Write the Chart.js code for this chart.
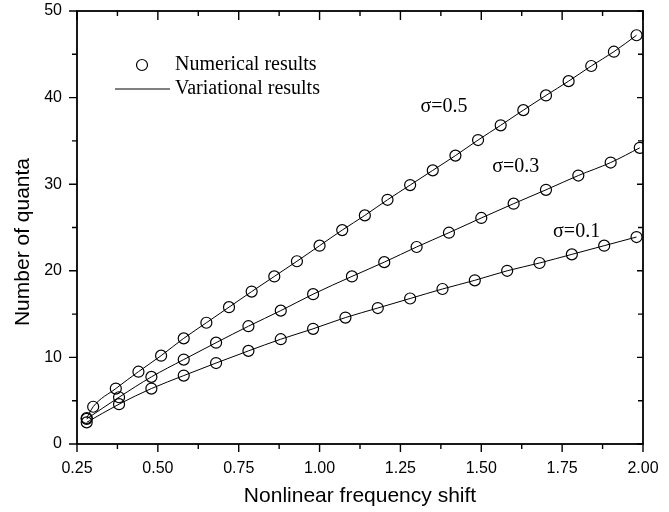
<!DOCTYPE html>
<html>
<head>
<meta charset="utf-8">
<script src="https://cdn.jsdelivr.net/npm/chart.js@4/dist/chart.umd.min.js"></script>
<style>
  html, body { margin: 0; padding: 0; background: #fff; }
  #quantaChart { display: block; }
</style>
</head>
<body>
<canvas id="quantaChart" width="669" height="512"></canvas>
<script>
// nonlinear frequency shift vs number of quanta
const shiftSigma05 = [0.28, 0.30, 0.37, 0.44, 0.51, 0.58, 0.65, 0.72, 0.79, 0.86, 0.93, 1.00, 1.07,
    1.14, 1.21, 1.28, 1.35, 1.42, 1.49, 1.56, 1.63, 1.70, 1.77, 1.84, 1.91, 1.98]
const quantaSigma05 = [3.0, 4.3, 6.4, 8.35, 10.2, 12.2, 14.0, 15.8, 17.6, 19.35, 21.1, 22.9, 24.7,
    26.4, 28.2, 29.9, 31.6, 33.3, 35.1, 36.8, 38.55, 40.25, 41.9, 43.65, 45.3, 47.2]

const shiftSigma03 = [0.28, 0.38, 0.48, 0.58, 0.68, 0.78, 0.88, 0.98, 1.10, 1.20, 1.30, 1.40, 1.50,
    1.60, 1.70, 1.80, 1.90, 1.99]
const quantaSigma03 = [2.9, 5.4, 7.75, 9.75, 11.7, 13.6, 15.4, 17.3, 19.35, 21.0, 22.75, 24.4, 26.1,
    27.75, 29.35, 31.0, 32.5, 34.2]

const shiftSigma01 = [0.28, 0.38, 0.48, 0.58, 0.68, 0.78, 0.88, 0.98, 1.08, 1.18, 1.28, 1.38, 1.48,
    1.58, 1.68, 1.78, 1.88, 1.98]
const quantaSigma01 = [2.5, 4.6, 6.4, 7.9, 9.35, 10.75, 12.1, 13.3, 14.6, 15.7, 16.8, 17.9, 18.9,
    20.0, 20.9, 21.9, 22.9, 23.9]

const xMajorTicks = [0.25, 0.50, 0.75, 1.00, 1.25, 1.50, 1.75, 2.00]
const xMinorTicks = [0.375, 0.625, 0.875, 1.125, 1.375, 1.625, 1.875]
const yMajorTicks = [0, 10, 20, 30, 40, 50]
const yMinorTicks = [5, 15, 25, 35, 45]

const curveLabels = ['σ=0.5', 'σ=0.3', 'σ=0.1']
const curveLabelX = [1.312, 1.534, 1.722]
const curveLabelY = [38.9, 32.0, 24.5]

const legendLabels = ['Numerical results', 'Variational results']
const yTitle = 'Number of quanta'

function toPoints(xs, ys) {
    return xs.map((x, i) => ({ x: x, y: ys[i] }))
}

function curve(xs, ys) {
    return {
        data: toPoints(xs, ys),
        showLine: true,
        borderColor: '#000',
        borderWidth: 1,
        cubicInterpolationMode: 'monotone',
        pointStyle: 'circle',
        pointRadius: 5.5,
        pointBorderWidth: 1.2,
        pointBorderColor: '#000',
        pointBackgroundColor: 'rgba(0,0,0,0)'
    }
}

const tickFont = { family: '"Liberation Sans", Arial, sans-serif', size: 16 }
const titleFont = { family: '"Liberation Sans", Arial, sans-serif', size: 21 }

// frame, ticks (out on bottom/left, in on top/right), legend, sigma labels, y title
const framePlugin = {
    id: 'frame',
    afterDraw(chart) {
        const ctx = chart.ctx
        const { left, right, top, bottom } = chart.chartArea
        const xs = chart.scales.x
        const ys = chart.scales.y
        ctx.save()
        ctx.strokeStyle = '#000'
        ctx.lineWidth = 1.8
        ctx.strokeRect(left, top, right - left, bottom - top)

        ctx.lineWidth = 1.4
        ctx.beginPath()
        const tickX = (vals, len, inLen) => vals.forEach(v => {
            const px = xs.getPixelForValue(v)
            ctx.moveTo(px, bottom); ctx.lineTo(px, bottom + len)
            ctx.moveTo(px, top); ctx.lineTo(px, top + inLen)
        })
        const tickY = (vals, len, inLen) => vals.forEach(v => {
            const py = ys.getPixelForValue(v)
            ctx.moveTo(left, py); ctx.lineTo(left - len, py)
            ctx.moveTo(right, py); ctx.lineTo(right - inLen, py)
        })
        tickX(xMajorTicks, 8, 9)
        tickX(xMinorTicks, 5, 5)
        tickY(yMajorTicks, 8, 6)
        tickY(yMinorTicks, 5, 5)
        ctx.stroke()

        // legend
        ctx.lineWidth = 1.2
        ctx.beginPath()
        ctx.arc(142, 65, 5.5, 0, Math.PI * 2)
        ctx.stroke()
        ctx.lineWidth = 1
        ctx.beginPath()
        ctx.moveTo(115, 89); ctx.lineTo(170, 89)
        ctx.stroke()

        ctx.fillStyle = '#000'
        ctx.font = '20px "Liberation Serif", "Times New Roman", serif'
        ctx.textBaseline = 'middle'
        ctx.textAlign = 'left'
        ctx.fillText(legendLabels[0], 175, 65)
        ctx.fillText(legendLabels[1], 175, 89)

        curveLabels.forEach((txt, i) => {
            ctx.fillText(txt, xs.getPixelForValue(curveLabelX[i]), ys.getPixelForValue(curveLabelY[i]))
        })

        // y title sits a bit below the middle of the axis in the original
        ctx.font = `${titleFont.size}px ${titleFont.family}`
        ctx.textAlign = 'center'
        ctx.translate(23, 242)
        ctx.rotate(-Math.PI / 2)
        ctx.fillText(yTitle, 0, 0)
        ctx.restore()
    }
}

const quantaChart = new Chart(document.getElementById('quantaChart'), {
    type: 'scatter',
    data: {
        datasets: [
            curve(shiftSigma05, quantaSigma05),
            curve(shiftSigma03, quantaSigma03),
            curve(shiftSigma01, quantaSigma01)
        ]
    },
    options: {
        responsive: false,
        animation: false,
        events: [],
        devicePixelRatio: 1,
        layout: { padding: { left: 0, right: 26, top: 11, bottom: 0 } },
        plugins: {
            legend: { display: false },
            tooltip: { enabled: false }
        },
        scales: {
            x: {
                type: 'linear',
                min: 0.25,
                max: 2.0,
                afterFit: s => { s.height = 68; s.paddingLeft = 0; s.paddingRight = 0 },
                afterBuildTicks: s => { s.ticks = xMajorTicks.map(v => ({ value: v })) },
                grid: { display: false, drawTicks: false },
                border: { display: false },
                ticks: {
                    color: '#000',
                    font: tickFont,
                    padding: 15,
                    maxRotation: 0,
                    callback: v => v.toFixed(2)
                },
                title: {
                    display: true,
                    text: 'Nonlinear frequency shift',
                    color: '#000',
                    font: titleFont,
                    padding: { top: 0, bottom: 3 }
                }
            },
            y: {
                type: 'linear',
                min: 0,
                max: 50,
                afterFit: s => { s.width = 77; s.paddingTop = 0; s.paddingBottom = 0 },
                afterBuildTicks: s => { s.ticks = yMajorTicks.map(v => ({ value: v })) },
                grid: { display: false, drawTicks: false },
                border: { display: false },
                ticks: {
                    color: '#000',
                    font: tickFont,
                    padding: 15
                },
                title: { display: false }
            }
        }
    },
    plugins: [framePlugin]
});
</script>
</body>
</html>
